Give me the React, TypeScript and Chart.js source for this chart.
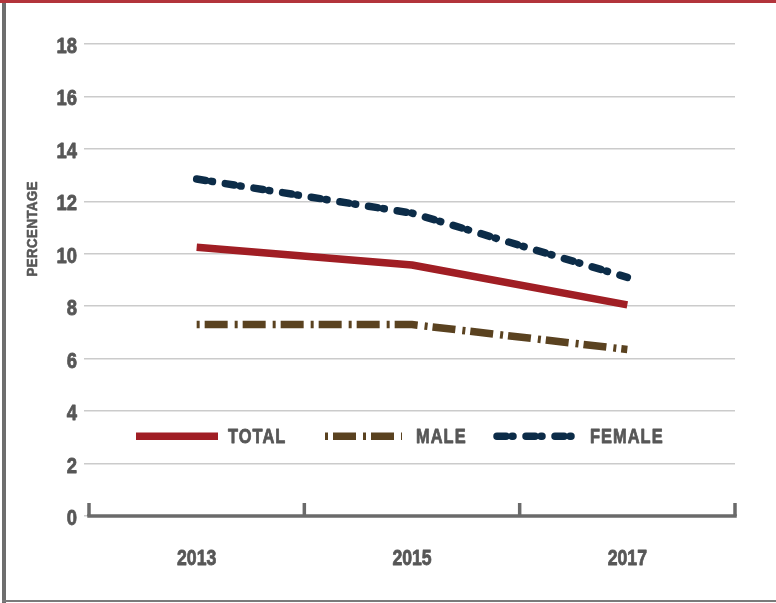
import React, { useEffect, useRef } from "react";
import { Chart, registerables } from "chart.js";

Chart.register(...registerables);

const years = ["2013", "2015", "2017"];
const totalValues = [10.25, 9.57, 8.05];
const maleValues = [7.3, 7.3, 6.35];
const femaleValues = [12.85, 11.55, 9.1];
const seriesNames = ["TOTAL", "MALE", "FEMALE"];
const yMin = 0;
const yMax = 18;
const yStep = 2;
const yTitle = "PERCENTAGE";

const FONT = '"Liberation Sans", Arial, "DejaVu Sans", sans-serif';
const TEXT = "#575757";
const RED = "#a01e24";
const BROWN = "#5a4220";
const NAVY = "#0c2c48";

const legendLayout = [
  { x0: 136, x1: 218, tx: 228 },
  { x0: 325, x1: 402, tx: 416 },
  { x0: 497, x1: 574, tx: 590 },
];

function narrowText(
  ctx: CanvasRenderingContext2D,
  text: string,
  x: number,
  yCenter: number,
  size: number,
  align: "left" | "center" | "right",
  k: number,
  spacing = 0,
  stroke = 0.8
) {
  ctx.save();
  ctx.font = `bold ${size}px ${FONT}`;
  (ctx as any).letterSpacing = `${spacing}px`;
  ctx.textAlign = "left";
  ctx.textBaseline = "alphabetic";
  ctx.fillStyle = TEXT;
  ctx.strokeStyle = TEXT;
  const w = (ctx.measureText(text).width - spacing) * k;
  let left = x;
  if (align === "center") left = x - w / 2;
  else if (align === "right") left = x - w;
  ctx.translate(left, yCenter + 0.358 * size);
  ctx.scale(k, 1);
  ctx.fillText(text, 0, 0);
  if (stroke > 0) {
    ctx.lineWidth = stroke;
    ctx.lineJoin = "round";
    ctx.strokeText(text, 0, 0);
  }
  ctx.restore();
}

const overlay = {
  id: "overlay",
  beforeDatasetsDraw(chart: any) {
    const { ctx, chartArea, scales } = chart;
    const xs = scales.x;
    const n = years.length;
    const pts = years.map((_, i) => xs.getPixelForValue(i));
    const half = (pts[1] - pts[0]) / 2;
    const bounds = [pts[0] - half, ...pts.slice(0, n - 1).map((p, i) => (p + pts[i + 1]) / 2), pts[n - 1] + half];
    const yb = chartArea.bottom;
    ctx.save();
    ctx.strokeStyle = "#6a6a6a";
    ctx.lineWidth = 3.5;
    ctx.lineCap = "butt";
    ctx.beginPath();
    ctx.moveTo(bounds[0] - 1.75, yb);
    ctx.lineTo(bounds[bounds.length - 1] + 1.75, yb);
    ctx.stroke();
    bounds.forEach((b) => {
      ctx.beginPath();
      ctx.moveTo(b, yb);
      ctx.lineTo(b, yb - 13);
      ctx.stroke();
    });
    ctx.restore();

    // y tick labels
    scales.y.ticks.forEach((t: any) => {
      const py = scales.y.getPixelForValue(t.value);
      narrowText(ctx, String(t.value), 77, py + 1, 22.5, "right", 0.82);
    });
    // x tick labels
    years.forEach((lab, i) => {
      narrowText(ctx, lab, xs.getPixelForValue(i), 557.5, 21.5, "center", 0.82);
    });
  },
  afterDraw(chart: any) {
    const { ctx, scales } = chart;
    // y title
    ctx.save();
    ctx.translate(31, 229);
    ctx.rotate(-Math.PI / 2);
    narrowText(ctx, yTitle, 0, 0, 15.5, "center", 0.85, 0.6, 0.6);
    ctx.restore();

    // legend
    const ly = scales.y.getPixelForValue(3) - 1;
    chart.data.datasets.forEach((ds: any, i: number) => {
      const L = legendLayout[i];
      ctx.save();
      ctx.strokeStyle = ds.borderColor;
      ctx.lineWidth = ds.borderWidth;
      ctx.lineCap = ds.borderCapStyle;
      ctx.setLineDash(ds.borderDash || []);
      ctx.beginPath();
      ctx.moveTo(L.x0, ly);
      ctx.lineTo(L.x1, ly);
      ctx.stroke();
      ctx.restore();
      narrowText(ctx, ds.label, L.tx, ly - 1, 20.5, "left", 0.8, 1.3);
    });
  },
};

export default function App() {
  const ref = useRef<HTMLCanvasElement>(null);
  useEffect(() => {
    if (!ref.current) return;
    const chart = new Chart(ref.current, {
      type: "line",
      data: {
        labels: years,
        datasets: [
          {
            label: seriesNames[0],
            data: totalValues,
            borderColor: RED,
            borderWidth: 7.5,
            borderCapStyle: "butt",
            borderJoinStyle: "round",
            pointRadius: 0,
            tension: 0,
          },
          {
            label: seriesNames[1],
            data: maleValues,
            borderColor: BROWN,
            borderWidth: 7.5,
            borderCapStyle: "butt",
            borderJoinStyle: "miter",
            borderDash: [3, 5, 23, 7],
            pointRadius: 0,
            tension: 0,
          },
          {
            label: seriesNames[2],
            data: femaleValues,
            borderColor: NAVY,
            borderWidth: 7.5,
            borderCapStyle: "round",
            borderJoinStyle: "round",
            borderDash: [9, 6, 1, 13],
            pointRadius: 0,
            tension: 0,
          },
        ],
      } as any,
      options: {
        animation: false,
        responsive: false,
        layout: { padding: { top: 44, right: 41, left: 0, bottom: 0 } },
        plugins: { legend: { display: false }, tooltip: { enabled: false } },
        scales: {
          x: {
            type: "category",
            offset: true,
            grid: { display: false, drawTicks: false, offset: true },
            border: { display: false },
            ticks: { display: false },
            afterFit: (s: any) => {
              s.height = 87;
            },
          },
          y: {
            min: yMin,
            max: yMax,
            border: { display: false },
            grid: { color: "#cbcbcb", lineWidth: 1.5, drawTicks: true, tickLength: 5, tickColor: "#cbcbcb" },
            ticks: { display: false, stepSize: yStep },
            afterFit: (s: any) => {
              s.width = 89;
            },
          },
        },
      } as any,
      plugins: [overlay],
    });
    return () => chart.destroy();
  }, []);

  return (
    <div style={{ position: "absolute", left: 0, top: 0, width: 776, height: 603, background: "#fff", overflow: "hidden" }}>
      <div style={{ position: "absolute", left: 0, top: 0, width: 776, height: 3, background: "#b2343b" }} />
      <div style={{ position: "absolute", left: 2, top: 3, width: 4, height: 600, background: "#6e6e6e" }} />
      <div style={{ position: "absolute", left: 2, top: 600, width: 774, height: 2, background: "#7a7a7a" }} />
      <canvas ref={ref} width={776} height={603} style={{ position: "absolute", left: 0, top: 0 }} />
    </div>
  );
}
